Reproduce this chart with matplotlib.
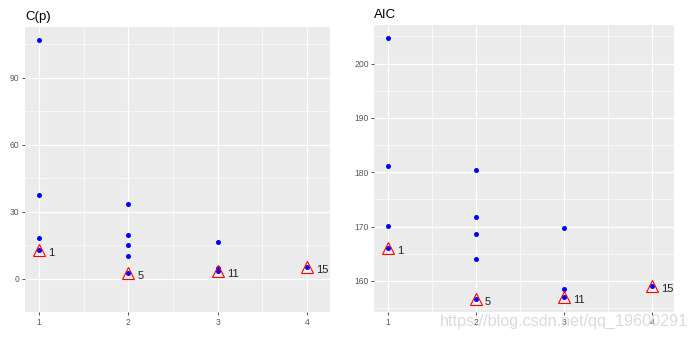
import matplotlib

matplotlib.use("Agg")
import matplotlib.pyplot as plt  # noqa: E402
import numpy as np  # noqa: E402

plt.rcParams["font.family"] = ["Liberation Sans", "DejaVu Sans"]

# subset size and criterion value of every candidate model
size = [1, 1, 1, 1, 2, 2, 2, 2, 2, 3, 3, 3, 4]
cp = [107.1, 37.4, 18.2, 12.7, 33.6, 19.6, 15.2, 10.0, 2.4, 16.3, 4.6, 3.4, 5.0]
aic = [204.7, 181.2, 170.1, 166.0, 180.4, 171.8, 168.6, 164.1, 156.6,
       169.8, 158.6, 157.1, 159.0]

# best model per size and its row number
best_size = [1, 2, 3, 4]
best_id = ["1", "5", "11", "15"]
best_cp = [12.7, 2.4, 3.4, 5.0]
best_aic = [166.0, 156.6, 157.1, 159.0]

panels = [
    ("C(p)", cp, best_cp, [0, 30, 60, 90], (-2.6, 112.8),
     [0.036, 0.077, 0.438, 0.843]),
    ("AIC", aic, best_aic, [160, 170, 180, 190, 200], (154.3, 207.1),
     [0.538, 0.077, 0.431, 0.849]),
]

fig = plt.figure(figsize=(6.96, 3.38), dpi=100)
for title, vals, best, yt, ylim, pos in panels:
    ax = fig.add_axes(pos)
    ax.set_facecolor("#EBEBEB")
    for s in ax.spines.values():
        s.set_visible(False)
    ax.set_xlim(0.845, 4.255)
    ax.set_ylim(*ylim)
    ax.set_xticks([1, 2, 3, 4])
    ax.set_yticks(yt)
    step = yt[1] - yt[0]
    ax.set_xticks([1.5, 2.5, 3.5], minor=True)
    ax.set_yticks(np.arange(yt[0] - step / 2, ylim[1], step), minor=True)
    ax.grid(which="major", color="white", lw=0.9)
    ax.grid(which="minor", color="white", lw=0.45)
    ax.set_axisbelow(True)
    ax.tick_params(which="major", length=2.5, width=0.6, color="#333333",
                   labelsize=6.2, labelcolor="#5A5A5A", pad=1.5)
    ax.tick_params(which="minor", length=0)

    ax.scatter(size, vals, s=13, color="blue", zorder=3, lw=0)
    ax.plot(best_size, best, ls="none", marker="^", ms=9, mfc="none",
            mec="red", mew=0.8, zorder=4)
    for x, y, lab in zip(best_size, best, best_id):
        ax.text(x + 0.1, y - 0.01 * (ylim[1] - ylim[0]), lab, ha="left",
                va="center", fontsize=8, color="#222222")
    ax.set_title(title, loc="left", fontsize=9.5, pad=5)

fig.text(0.988, 0.036, "https://blog.csdn.net/qq_19600291", ha="right",
         va="baseline", fontsize=11.6, color="#D4D4D4", alpha=0.85)

fig.savefig("out.png", dpi=100)
